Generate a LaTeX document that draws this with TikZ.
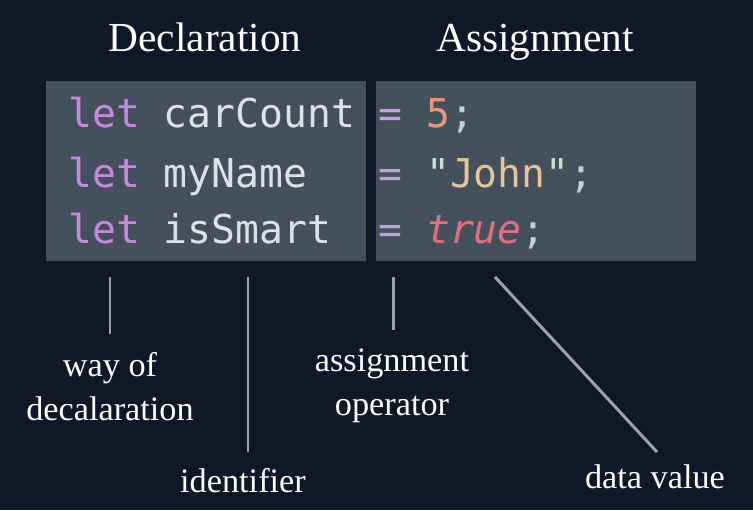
\documentclass[tikz,border=0pt]{standalone}
\usepackage{fontspec}
\setmainfont{Liberation Serif}
\newfontfamily\codefont{DejaVu Sans Mono}

% Palette
\definecolor{bgnavy}{RGB}{14,24,38}
\definecolor{boxgray}{RGB}{68,80,92}
\definecolor{linegray}{RGB}{158,162,168}
\definecolor{kwviolet}{RGB}{200,136,222}
\definecolor{idwhite}{RGB}{222,226,232}
\definecolor{opviolet}{RGB}{190,160,225}
\definecolor{numorange}{RGB}{232,150,122}
\definecolor{quotegreen}{RGB}{200,228,205}
\definecolor{strtan}{RGB}{228,196,152}
\definecolor{boolred}{RGB}{226,110,130}
\definecolor{punctblue}{RGB}{196,208,222}

% Syntax colouring
\newcommand{\cKw}[1]{\textcolor{kwviolet}{#1}}
\newcommand{\cId}[1]{\textcolor{idwhite}{#1}}
\newcommand{\cOp}[1]{\textcolor{opviolet}{#1}}
\newcommand{\cNum}[1]{\textcolor{numorange}{#1}}
\newcommand{\cQuo}[1]{\textcolor{quotegreen}{#1}}
\newcommand{\cStr}[1]{\textcolor{strtan}{#1}}
\newcommand{\cBool}[1]{\textcolor{boolred}{\itshape #1}}
\newcommand{\cPun}[1]{\textcolor{punctblue}{#1}}

\tikzset{
  codeline/.style={anchor=base west, inner sep=0pt,
    font=\codefont\fontsize{22.6}{26}\selectfont},
  heading/.style={anchor=base, inner sep=0pt, white,
    font=\fontsize{23.5}{28}\selectfont},
  tag/.style={anchor=base, inner sep=0pt, white, align=center,
    font=\fontsize{19.5}{24.5}\selectfont},
  pointer/.style={linegray, line width=1.7pt}
}

\begin{document}
\begin{tikzpicture}[x=0.02cm, y=-0.02cm]
			% Canvas size (reference pixels)
			\pgfmathsetmacro{\W}{753}
			\pgfmathsetmacro{\H}{510}

			% Code boxes
			\pgfmathsetmacro{\boxTop}{81}
			\pgfmathsetmacro{\boxBot}{261}
			\pgfmathsetmacro{\declL}{46}
			\pgfmathsetmacro{\declR}{366}
			\pgfmathsetmacro{\asgL}{376}
			\pgfmathsetmacro{\asgR}{696}

			% Background
			\fill[bgnavy] (0, 0) rectangle (\W, \H);
			\useasboundingbox (0, 0) rectangle (\W, \H);

			\fill[boxgray] (\declL, \boxTop) rectangle (\declR, \boxBot); % declaration box
			\fill[boxgray] (\asgL, \boxTop) rectangle (\asgR, \boxBot); % assignment box

			% Headings
			\node[heading] (declTitle) at (205, 52) {Declaration};
			\node[heading] (asgTitle) at (535, 52) {Assignment};

			% Code lines
			\node[codeline] (decl1) at (68, 127) {\cKw{let} \cId{carCount}};
			\node[codeline] (decl2) at (68, 187) {\cKw{let} \cId{myName}};
			\node[codeline] (decl3) at (68, 243) {\cKw{let} \cId{isSmart}};
			\node[codeline] (asg1) at (378, 127) {\cOp{=} \cNum{5}\cPun{;}};
			\node[codeline] (asg2) at (378, 187)
			{\cOp{=} \cQuo{"}\cStr{John}\cQuo{"}\cPun{;}};
			\node[codeline] (asg3) at (378, 243) {\cOp{=} \cBool{true}\cPun{;}};

			% Labels (base = last line)
			\node[tag] (wayOf) at (110, 420) {way of\\decalaration};
			\node[tag] (ident) at (243, 492) {identifier};
			\node[tag] (asgOp) at (392, 415) {assignment\\operator};
			\node[tag] (dataVal) at (655, 488) {data value};

			% Pointer ends
			\coordinate (kwTop) at (110, 277);
			\coordinate (kwBot) at (110, 334);
			\coordinate (idTop) at (248, 277);
			\coordinate (idBot) at (248, 452);
			\coordinate (opTop) at (393, 277);
			\coordinate (opBot) at (393, 330);
			\coordinate (valTop) at (495, 277);
			\coordinate (valBot) at (657, 452);

			\draw[pointer] (kwTop) -- (kwBot);
			\draw[pointer] (idTop) -- (idBot);
			\draw[pointer] (opTop) -- (opBot);
			\draw[pointer] (valTop) -- (valBot);
		\end{tikzpicture}
\end{document}
